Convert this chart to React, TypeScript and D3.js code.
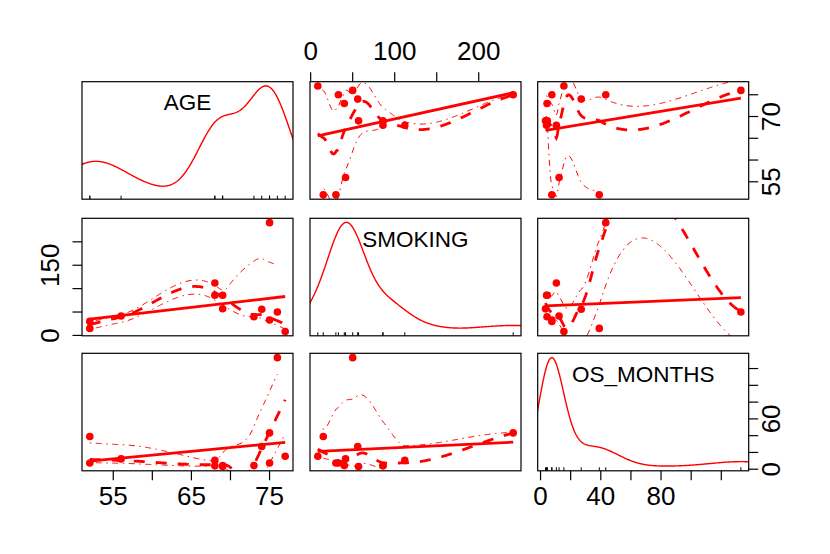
import * as d3 from "d3";

// values: one row per case
const VAR_NAMES = ["AGE", "SMOKING", "OS_MONTHS"];
const AGE = [52, 52, 56, 68, 68, 69, 69, 73, 74, 75, 75, 76, 77];
const SMOKING = [15, 30, 41.5, 112, 86, 86, 57, 40, 56, 241, 33, 50, 8.5];
const OS_MONTHS = [39, 7.5, 12.3, 10.5, 4, 4.5, 3.3, 4.3, 27, 43.3, 7.5, 133, 15.5];

// axis ticks and the labels that are printed
const AGE_TICKS = [55, 60, 65, 70, 75];
const SMOKING_TICKS = [0, 50, 100, 150, 200];
const OS_TICKS = [0, 20, 40, 60, 80, 100, 120];
const AGE_X_LABELS = [55, 65, 75];
const AGE_Y_LABELS = [55, 70];
const SMOKING_X_LABELS = [0, 100, 200];
const SMOKING_Y_LABELS = [0, 150];
const OS_X_LABELS = [0, 40, 80];
const OS_Y_LABELS = [0, 60];

const DATA = [AGE, SMOKING, OS_MONTHS];
const TICKS = [AGE_TICKS, SMOKING_TICKS, OS_TICKS];
const X_LABELS = [AGE_X_LABELS, SMOKING_X_LABELS, OS_X_LABELS];
const Y_LABELS = [AGE_Y_LABELS, SMOKING_Y_LABELS, OS_Y_LABELS];

const WIDTH = 830;
const HEIGHT = 554;
const COL_X = [82, 310, 537.7];
const ROW_Y = [81.7, 218.3, 353.3];
const PW = 211;
const PH = 117.5;
const TICK = 9.5;
const RED = "#ff0000";
const FONT = "'Liberation Sans', Arial, Helvetica, sans-serif";
const SPAN = 2 / 3;
const ROBUST_ITERS = 3;

const padded = (v: number[]): [number, number] => {
  const [a, b] = d3.extent(v) as [number, number];
  const r = b - a;
  return [a - 0.04 * r, b + 0.04 * r];
};

// ---- loess: local fits at kd vertices, cubic hermite in between
type Surface = { verts: number[]; val: number[]; der: number[] };

function buildVerts(xs: number[], span: number) {
  const s = [...xs].sort((a, b) => a - b);
  const n = s.length;
  const fc = Math.floor(n * span * 0.2);
  const mn = s[0];
  const mx = s[n - 1];
  const mu = 0.005 * Math.max(mx - mn, 1e-10 * Math.max(Math.abs(mn), Math.abs(mx)) + 1e-30);
  const verts = [mn - mu, mx + mu];
  const split = (l: number, u: number, vlo: number, vhi: number) => {
    if (u < l || u - l + 1 <= fc) return;
    let m = Math.floor((l + u) / 2);
    while (m > l && s[m - 1] === s[m]) m--;
    const xm = s[m];
    if (xm === vlo || xm === vhi) return;
    verts.push(xm);
    split(l, m, vlo, xm);
    split(m + 1, u, xm, vhi);
  };
  split(0, n - 1, verts[0], verts[1]);
  return verts.sort((a, b) => a - b);
}

function localFit(xs: number[], ys: number[], rw: number[], x0: number, span: number, degree: number) {
  const n = xs.length;
  const q = Math.min(n, Math.max(1, Math.floor(n * span + 1e-5)));
  const dist = xs.map((x) => Math.abs(x - x0));
  const rho = [...dist].sort((a, b) => a - b)[q - 1];
  const tri = dist.map((d) => {
    if (rho <= 0) return d === 0 ? 1 : 0;
    const r = d / rho;
    if (r >= 0.999) return 0;
    if (r <= 0.001) return 1;
    return Math.pow(1 - r * r * r, 3);
  });
  let w = tri.map((t, i) => t * rw[i]);
  if (d3.sum(w) <= 0) w = tri;
  const sw = d3.sum(w);
  const mx = d3.sum(xs, (x, i) => w[i] * x) / sw;
  const my = d3.sum(ys, (y, i) => w[i] * y) / sw;
  if (degree === 0) return { v: my, s: 0 };
  const sxx = d3.sum(xs, (x, i) => w[i] * (x - mx) ** 2);
  const sxy = d3.sum(xs, (x, i) => w[i] * (x - mx) * (ys[i] - my));
  if (sxx <= 1e-10 * sw * (rho * rho + 1e-30)) return { v: my, s: 0 };
  const b = sxy / sxx;
  return { v: my + b * (x0 - mx), s: b };
}

function interp(sf: Surface, x: number) {
  const { verts, val, der } = sf;
  if (x < verts[0] || x > verts[verts.length - 1]) return NaN;
  let k = d3.bisectRight(verts, x) - 1;
  k = Math.max(0, Math.min(verts.length - 2, k));
  const h = verts[k + 1] - verts[k];
  const t = (x - verts[k]) / h;
  const p0 = (1 - t) * (1 - t) * (1 + 2 * t);
  const p1 = t * t * (3 - 2 * t);
  const q0 = t * (1 - t) * (1 - t);
  const q1 = -t * t * (1 - t);
  return p0 * val[k] + p1 * val[k + 1] + (q0 * der[k] + q1 * der[k + 1]) * h;
}

function robustWeights(res: number[]) {
  const a = res.map(Math.abs);
  const cmad = 6 * (d3.median(a) as number);
  if (cmad < 1e-300) return a.map(() => 1);
  return a.map((r) => (r > 0.999 * cmad ? 0 : r > 0.001 * cmad ? (1 - (r / cmad) ** 2) ** 2 : 1));
}

function loess(xs: number[], ys: number[], span: number, degree: number, iterations: number) {
  if (Math.floor(xs.length * span + 1e-5) < 1) return null;
  const verts = buildVerts(xs, span);
  let rw = xs.map(() => 1);
  let sf: Surface = { verts, val: [], der: [] };
  let res: number[] = [];
  for (let it = 0; it < iterations; it++) {
    const fits = verts.map((v) => localFit(xs, ys, rw, v, span, degree));
    sf = { verts, val: fits.map((f) => f.v), der: fits.map((f) => f.s) };
    res = ys.map((y, i) => y - interp(sf, xs[i]));
    if (it < iterations - 1) rw = robustWeights(res);
  }
  return { sf, res };
}

// ---- adaptive kernel density, rescaled onto the variable's own range
function densityCurve(v: number[]) {
  const n = v.length;
  const s = [...v].sort((a, b) => a - b);
  const sd = d3.deviation(v) as number;
  const iqr = (d3.quantile(s, 0.75) as number) - (d3.quantile(s, 0.25) as number);
  const bw = 0.9 * Math.min(sd, iqr / 1.34) * Math.pow(n, -0.2);
  const kern = (u: number) => Math.exp(-0.5 * u * u) / Math.sqrt(2 * Math.PI);
  const pilot = v.map((xi) => d3.sum(v, (x) => kern((xi - x) / bw)) / (n * bw));
  const g = Math.exp(d3.mean(pilot, Math.log) as number);
  const lam = pilot.map((f) => Math.pow(f / g, -0.5));
  const from = s[0] - 3 * bw;
  const to = s[n - 1] + 3 * bw;
  const grid = d3.range(500).map((k) => from + ((to - from) * k) / 499);
  const dens = grid.map((g0) => d3.sum(v, (x, i) => kern((g0 - x) / (bw * lam[i])) / (bw * lam[i])) / n);
  const [dMin, dMax] = d3.extent(dens) as [number, number];
  const range = s[n - 1] - s[0];
  return grid.map((g0, k) => [g0, s[0] + (dens[k] * range) / (dMax - dMin)] as [number, number]);
}

type Pt = [number, number];

export default function App() {
  const xScales = DATA.map((v, j) => d3.scaleLinear().domain(padded(v)).range([COL_X[j], COL_X[j] + PW]));
  const yScales = DATA.map((v, i) => d3.scaleLinear().domain(padded(v)).range([ROW_Y[i] + PH, ROW_Y[i]]));

  const panels: JSX.Element[] = [];
  for (let i = 0; i < 3; i++) {
    for (let j = 0; j < 3; j++) {
      const xs = xScales[j];
      const ys = yScales[i];
      const clipId = `clip-${i}-${j}`;
      const line = d3
        .line<Pt>()
        .defined((d) => Number.isFinite(d[1]))
        .x((d) => xs(d[0]))
        .y((d) => ys(d[1]));
      const content: JSX.Element[] = [];

      if (i === j) {
        const v = DATA[i];
        content.push(<path key="dens" d={line(densityCurve(v)) || ""} fill="none" stroke={RED} strokeWidth={1.4} />);
        v.forEach((x, k) =>
          content.push(
            <line key={`rug${k}`} x1={xs(x)} x2={xs(x)} y1={ROW_Y[i] + PH} y2={ROW_Y[i] + PH - 3.5} stroke="#000" />
          )
        );
      } else {
        const xv = DATA[j];
        const yv = DATA[i];
        // least squares line over the range of x
        const mx = d3.mean(xv) as number;
        const my = d3.mean(yv) as number;
        const b = d3.sum(xv, (x, k) => (x - mx) * (yv[k] - my)) / d3.sum(xv, (x) => (x - mx) ** 2);
        const a = my - b * mx;
        const [x0, x1] = d3.extent(xv) as [number, number];
        const evalX = d3.range(200).map((k) => x0 + ((x1 - x0) * k) / 199);

        const main = loess(xv, yv, SPAN, 1, ROBUST_ITERS)!;
        const smooth: Pt[] = evalX.map((x) => [x, interp(main.sf, x)]);
        const pos = xv.map((_, k) => k).filter((k) => main.res[k] > 0);
        const neg = xv.map((_, k) => k).filter((k) => !(main.res[k] > 0));
        const spreadLines: Pt[][] = [];
        ([
          [pos, 1],
          [neg, -1],
        ] as [number[], number][]).forEach(([ids, sign]) => {
          const f = loess(
            ids.map((k) => xv[k]),
            ids.map((k) => main.res[k] ** 2),
            SPAN,
            0,
            1
          );
          if (!f) return;
          spreadLines.push(evalX.map((x, k) => [x, smooth[k][1] + sign * Math.sqrt(Math.max(0, interp(f.sf, x)))]));
        });

        xv.forEach((x, k) => content.push(<circle key={`p${k}`} cx={xs(x)} cy={ys(yv[k])} r={3.8} fill={RED} />));
        content.push(
          <path key="reg" d={line([[x0, a + b * x0], [x1, a + b * x1]]) || ""} fill="none" stroke={RED} strokeWidth={2.8} />
        );
        content.push(
          <path key="smooth" d={line(smooth) || ""} fill="none" stroke={RED} strokeWidth={2.8} strokeDasharray="11,11" />
        );
        spreadLines.forEach((s, k) =>
          content.push(
            <path key={`sp${k}`} d={line(s) || ""} fill="none" stroke={RED} strokeWidth={1} strokeDasharray="1.5,4.5,6,4.5" />
          )
        );
      }

      panels.push(
        <g key={`panel-${i}-${j}`}>
          <clipPath id={clipId}>
            <rect x={COL_X[j]} y={ROW_Y[i]} width={PW} height={PH} />
          </clipPath>
          <g clipPath={`url(#${clipId})`}>{content}</g>
          {i === j && (
            <text x={COL_X[j] + PW / 2} y={ROW_Y[i] + 28.3} textAnchor="middle" fontSize={22.5} fontFamily={FONT} fill="#000">
              {VAR_NAMES[i]}
            </text>
          )}
          <rect x={COL_X[j]} y={ROW_Y[i]} width={PW} height={PH} fill="none" stroke="#000" strokeWidth={1.2} />
        </g>
      );
    }
  }

  // axes alternate around the matrix like pairs()
  const axes: JSX.Element[] = [];
  [0, 1, 2].forEach((j) => {
    const xs = xScales[j];
    const top = j === 1;
    const yEdge = top ? ROW_Y[0] : ROW_Y[2] + PH;
    const dir = top ? -1 : 1;
    TICKS[j].forEach((t) =>
      axes.push(
        <line key={`xt${j}-${t}`} x1={xs(t)} x2={xs(t)} y1={yEdge} y2={yEdge + dir * TICK} stroke="#000" strokeWidth={1.2} />
      )
    );
    X_LABELS[j].forEach((t) =>
      axes.push(
        <text key={`xl${j}-${t}`} x={xs(t)} y={top ? yEdge - 21.7 : yEdge + 34.5} textAnchor="middle" fontSize={26} fontFamily={FONT} fill="#000">
          {t}
        </text>
      )
    );
  });
  [0, 1, 2].forEach((i) => {
    const ys = yScales[i];
    const left = i === 1;
    const xEdge = left ? COL_X[0] : COL_X[2] + PW;
    const dir = left ? -1 : 1;
    TICKS[i].forEach((t) =>
      axes.push(
        <line key={`yt${i}-${t}`} x1={xEdge} x2={xEdge + dir * TICK} y1={ys(t)} y2={ys(t)} stroke="#000" strokeWidth={1.2} />
      )
    );
    Y_LABELS[i].forEach((t) => {
      const bx = left ? xEdge - 22.7 : xEdge + 31;
      axes.push(
        <text key={`yl${i}-${t}`} transform={`translate(${bx},${ys(t)}) rotate(-90)`} textAnchor="middle" fontSize={26} fontFamily={FONT} fill="#000">
          {t}
        </text>
      );
    });
  });

  return (
    <svg width={WIDTH} height={HEIGHT} style={{ position: "absolute", left: 0, top: 0, background: "#fff" }}>
      <rect width={WIDTH} height={HEIGHT} fill="#fff" />
      {panels}
      {axes}
    </svg>
  );
}
